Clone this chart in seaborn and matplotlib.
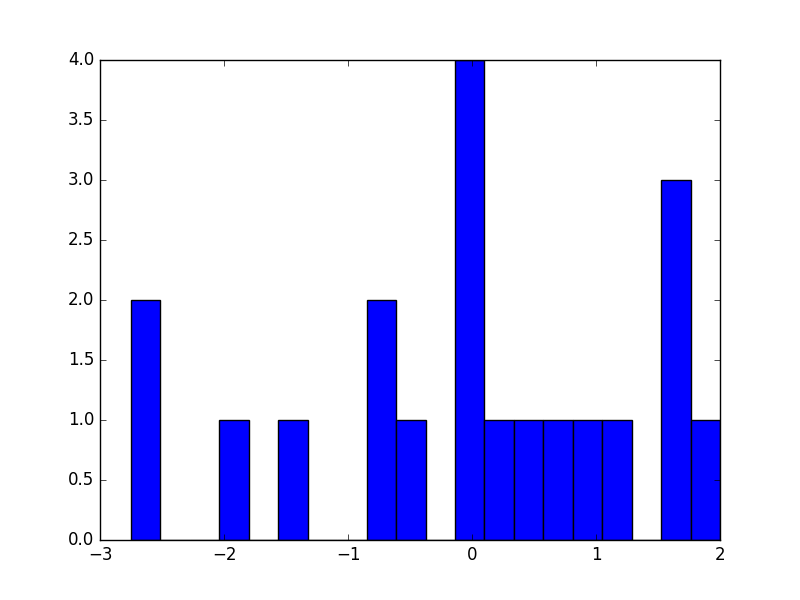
import numpy as np
import pandas as pd
import matplotlib
matplotlib.use("Agg")
import matplotlib.pyplot as plt
import seaborn as sns

# histogram: 20 equal bins between the data min and max
data_min = -2.75
data_max = 2.0
n_bins = 20
counts = [2, 0, 0, 1, 0, 1, 0, 0, 2, 1, 0, 4, 1, 1, 1, 1, 1, 0, 3, 1]

edges = np.linspace(data_min, data_max, n_bins + 1)
df = pd.DataFrame({"value": (edges[:-1] + edges[1:]) / 2, "count": counts})

plt.style.use("classic")
fig, ax = plt.subplots(figsize=(8, 6), dpi=100)
fig.patch.set_facecolor("white")

sns.histplot(data=df, x="value", weights="count", bins=n_bins,
             binrange=(data_min, data_max), ax=ax,
             color="#0000ff", edgecolor="black", linewidth=1, alpha=1)

ax.set_xlim(-3, 2)
ax.set_ylim(0, 4)
ax.set_xlabel("")
ax.set_ylabel("")

fig.savefig("out.png", dpi=100, facecolor="white")
